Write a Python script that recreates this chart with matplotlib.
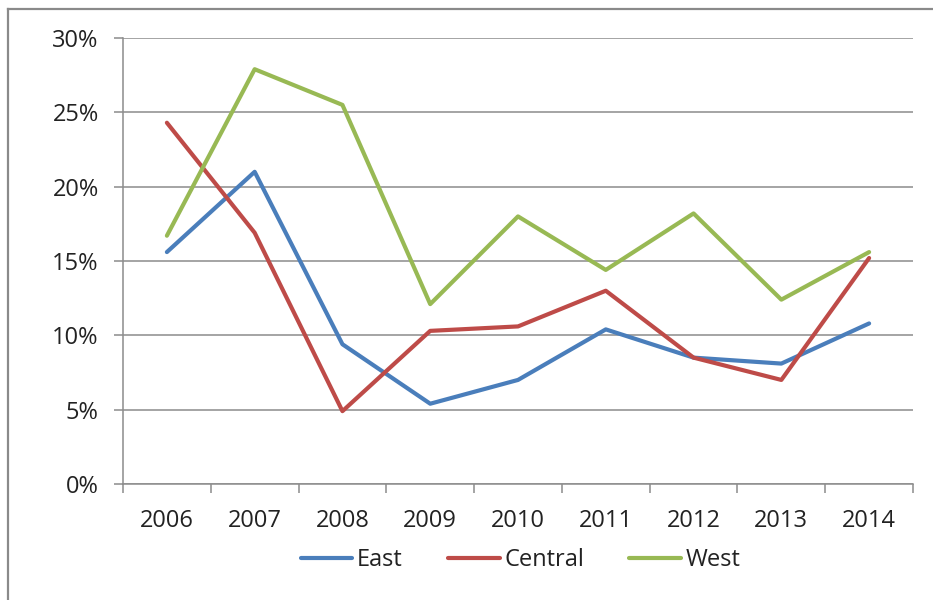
import matplotlib.pyplot as plt
from matplotlib.lines import Line2D
from matplotlib.ticker import FuncFormatter

years = ['2006', '2007', '2008', '2009', '2010', '2011', '2012', '2013', '2014']
east = [15.6, 21.0, 9.4, 5.4, 7.0, 10.4, 8.5, 8.1, 10.8]
central = [24.3, 16.9, 4.9, 10.3, 10.6, 13.0, 8.5, 7.0, 15.2]
west = [16.7, 27.9, 25.5, 12.1, 18.0, 14.4, 18.2, 12.4, 15.6]

series = [('East', east, '#4a7ebb'),
          ('Central', central, '#be4b48'),
          ('West', west, '#98b954')]

plt.rcParams['font.family'] = ['Open Sans', 'DejaVu Sans']

fig = plt.figure(figsize=(9.33, 6), dpi=100)
ax = fig.add_axes([123 / 933, 1 - 484 / 600, 790 / 933, 446 / 600])

x = range(len(years))
for name, vals, col in series:
    ax.plot(x, vals, color=col, lw=3, label=name,
            solid_capstyle='round', solid_joinstyle='round', zorder=3)

grid_col = '#8c8c8c'
ax.set_xlim(-0.5, len(years) - 0.5)
ax.set_ylim(0, 30)
ax.set_yticks(range(0, 31, 5))
ax.yaxis.set_major_formatter(FuncFormatter(lambda v, p: f'{int(v)}%'))
ax.grid(axis='y', color=grid_col, lw=1.1)
ax.set_axisbelow(True)

ax.set_xticks(list(x))
ax.set_xticklabels(years)
ax.set_xticks([i - 0.5 for i in range(len(years) + 1)], minor=True)
ax.tick_params(axis='x', which='major', length=0, pad=18, labelsize=17, labelcolor='#222222')
ax.tick_params(axis='x', which='minor', length=6.5, width=1.1, color=grid_col)
ax.tick_params(axis='y', length=6.5, width=1.1, color=grid_col, pad=11,
               labelsize=17, labelcolor='#222222')

for side in ['top', 'right']:
    ax.spines[side].set_visible(False)
for side in ['left', 'bottom']:
    ax.spines[side].set_color(grid_col)
    ax.spines[side].set_linewidth(1.1)

fig.legend(loc='center', bbox_to_anchor=(0.558, 0.066), ncol=3, frameon=False,
           fontsize=17, handlelength=2.2, handletextpad=0.2, columnspacing=1.9,
           labelcolor='#222222')

# outer chart frame (only top and left edges are visible in the crop)
fig.add_artist(Line2D([8 / 933, 8 / 933], [0, 1 - 9 / 600], color='#8a8a8a', lw=1.6,
                      transform=fig.transFigure))
fig.add_artist(Line2D([8 / 933, 1], [1 - 9 / 600, 1 - 9 / 600], color='#8a8a8a', lw=1.6,
                      transform=fig.transFigure))

fig.savefig('out.png', dpi=100)
